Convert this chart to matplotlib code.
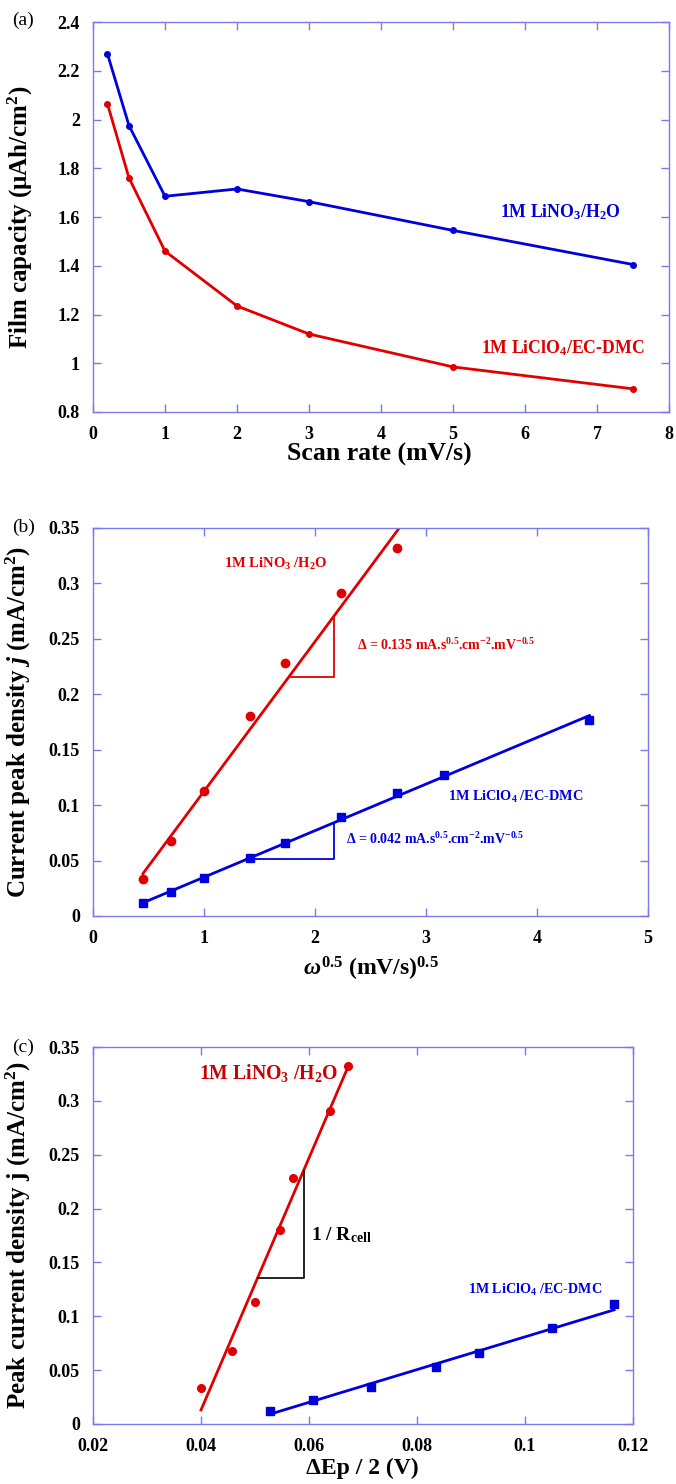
import numpy as np
import matplotlib
matplotlib.use('Agg')
import matplotlib.pyplot as plt

# data
scan_rate = [0.2, 0.5, 1, 2, 3, 5, 7.5]
cap_nitrate = [2.27, 1.975, 1.685, 1.715, 1.663, 1.545, 1.405]
cap_perchlorate = [2.065, 1.76, 1.46, 1.235, 1.12, 0.985, 0.895]

sqrt_nitrate = [0.447, 0.707, 1.0, 1.414, 1.732, 2.236, 2.739]
j_nitrate = [0.033, 0.068, 0.113, 0.18, 0.228, 0.291, 0.332]
sqrt_perchlorate = [0.447, 0.707, 1.0, 1.414, 1.732, 2.236, 2.739, 3.162, 4.472]
j_perchlorate = [0.012, 0.022, 0.034, 0.052, 0.066, 0.089, 0.111, 0.127, 0.177]

dE_nitrate = [0.040, 0.0457, 0.050, 0.0546, 0.0571, 0.0638, 0.0672]
dE_perchlorate = [0.0527, 0.0607, 0.0715, 0.0835, 0.0915, 0.105, 0.1165]
j_perchlorate_c = [0.012, 0.022, 0.034, 0.053, 0.066, 0.089, 0.111]

# linear fits (slope, intercept, x range)
fit_b_nitrate = (0.135, -0.0225, [0.45, 2.76])
fit_b_perchlorate = (0.042, -0.007, [0.447, 4.472])
fit_c_nitrate = (11.7, -0.455, [0.040, 0.0673])
fit_c_perchlorate = (1.52, -0.0711, [0.0527, 0.1165])

BLUE = '#0000dd'
RED = '#e00000'
SPINE = '#7a7aee'

plt.rcParams['font.family'] = ['Liberation Serif', 'DejaVu Serif']
plt.rcParams['font.weight'] = 'bold'
plt.rcParams['mathtext.fontset'] = 'custom'
plt.rcParams['mathtext.rm'] = 'Liberation Serif:bold'
plt.rcParams['mathtext.it'] = 'Liberation Serif:italic:bold'
plt.rcParams['mathtext.bf'] = 'Liberation Serif:bold'

fig = plt.figure(figsize=(6.76, 14.84), dpi=100)
W, H = 676, 1484


def make_axes(left, right, top, bottom):
    return fig.add_axes([left / W, 1 - bottom / H, (right - left) / W, (bottom - top) / H])


def style(ax):
    for s in ax.spines.values():
        s.set_color(SPINE)
        s.set_linewidth(1.0)
    ax.tick_params(direction='in', length=6, width=1, color=SPINE, top=True, right=True,
                   labelsize=13)
    ax.tick_params(axis='y', pad=9.5)
    ax.tick_params(axis='x', pad=10)
    for lab in ax.get_xticklabels() + ax.get_yticklabels():
        lab.set_fontweight('bold')


def fit_line(ax, fit, color):
    k, b, xr = fit
    xs = np.array(xr)
    ax.plot(xs, k * xs + b, color=color, lw=2)


# ---------- (a)
ax1 = make_axes(93, 669, 22, 412)
ax1.plot(scan_rate, cap_nitrate, '-o', color=BLUE, lw=2, ms=4)
ax1.plot(scan_rate, cap_perchlorate, '-o', color=RED, lw=2, ms=4)
ax1.set_xlim(0, 8)
ax1.set_ylim(0.8, 2.4)
ax1.set_xticks(range(0, 9))
ax1.set_yticks([0.8, 1, 1.2, 1.4, 1.6, 1.8, 2, 2.2, 2.4])
ax1.set_yticklabels(['0.8', '1', '1.2', '1.4', '1.6', '1.8', '2', '2.2', '2.4'])
style(ax1)
ax1.set_xlabel('Scan rate (mV/s)', fontsize=18.5, fontweight='bold')
ax1.xaxis.set_label_coords(0.497, -0.08)
ax1.set_ylabel('Film capacity (μAh/cm$^2$)', fontsize=18, fontweight='bold')
ax1.yaxis.set_label_coords(-0.1, 0.5)
ax1.text(5.65, 1.62, r'1M LiNO$_3$/H$_2$O', color=BLUE, fontsize=12.8, va='center')
ax1.text(5.39, 1.06, r'1M LiClO$_4$/EC-DMC', color=RED, fontsize=12.8, va='center')
fig.text(12 / W, 1 - 20 / H, '(a)', fontsize=14, fontweight='normal', va='center')

# ---------- (b)
ax2 = make_axes(93, 648, 528, 916)
fit_line(ax2, fit_b_nitrate, RED)
fit_line(ax2, fit_b_perchlorate, BLUE)
ax2.plot(sqrt_nitrate, j_nitrate, 'o', color=RED, ms=6)
ax2.plot(sqrt_perchlorate, j_perchlorate, 's', color=BLUE, ms=6)
# slope triangles
tri_x = 2.17
k, b, _ = fit_b_nitrate
y_h = 0.2155
ax2.plot([(y_h - b) / k, tri_x, tri_x], [y_h, y_h, k * tri_x + b], color=RED, lw=1.3)
k, b, _ = fit_b_perchlorate
y_h = 0.051
ax2.plot([(y_h - b) / k, tri_x, tri_x], [y_h, y_h, k * tri_x + b], color=BLUE, lw=1.3)
ax2.set_xlim(0, 5)
ax2.set_ylim(0, 0.35)
ax2.set_xticks(range(0, 6))
ax2.set_yticks([0, 0.05, 0.1, 0.15, 0.2, 0.25, 0.3, 0.35])
ax2.set_yticklabels(['0', '0.05', '0.1', '0.15', '0.2', '0.25', '0.3', '0.35'])
style(ax2)
ax2.set_xlabel(r'$\omega^{0.5}$ (mV/s)$^{0.5}$', fontsize=17, fontweight='bold')
ax2.xaxis.set_label_coords(0.5, -0.1)
ax2.set_ylabel(r'Current peak density $j$ (mA/cm$^2$)', fontsize=18, fontweight='bold')
ax2.yaxis.set_label_coords(-0.108, 0.5)
ax2.text(1.18, 0.318, r'1M LiNO$_3$ /H$_2$O', color=RED, fontsize=10.5, va='center')
ax2.text(2.38, 0.2445, r'Δ = 0.135 mA.s$^{0.5}$.cm$^{-2}$.mV$^{-0.5}$', color=RED,
         fontsize=10, va='center')
ax2.text(3.2, 0.107, r'1M LiClO$_4$ /EC-DMC', color=BLUE, fontsize=10.3, va='center')
ax2.text(2.28, 0.069, r'Δ = 0.042 mA.s$^{0.5}$.cm$^{-2}$.mV$^{-0.5}$', color=BLUE,
         fontsize=10, va='center')
fig.text(12 / W, 1 - 527 / H, '(b)', fontsize=14, fontweight='normal', va='center')

# ---------- (c)
ax3 = make_axes(93, 633, 1047, 1424)
fit_line(ax3, fit_c_nitrate, RED)
fit_line(ax3, fit_c_perchlorate, BLUE)
ax3.plot(dE_nitrate, j_nitrate, 'o', color=RED, ms=5.5)
ax3.plot(dE_perchlorate, j_perchlorate_c, 's', color=BLUE, ms=6)
k, b, _ = fit_c_nitrate
tri_x = 0.059
y_h = 0.136
ax3.plot([(y_h - b) / k, tri_x, tri_x], [y_h, y_h, k * tri_x + b], color='black', lw=1.2)
ax3.set_xlim(0.02, 0.12)
ax3.set_ylim(0, 0.35)
ax3.set_xticks([0.02, 0.04, 0.06, 0.08, 0.1, 0.12])
ax3.set_xticklabels(['0.02', '0.04', '0.06', '0.08', '0.1', '0.12'])
ax3.set_yticks([0, 0.05, 0.1, 0.15, 0.2, 0.25, 0.3, 0.35])
ax3.set_yticklabels(['0', '0.05', '0.1', '0.15', '0.2', '0.25', '0.3', '0.35'])
style(ax3)
ax3.set_xlabel('ΔEp / 2 (V)', fontsize=17, fontweight='bold')
ax3.xaxis.set_label_coords(0.498, -0.09)
ax3.set_ylabel('Peak current density j (mA/cm$^2$)', fontsize=18, fontweight='bold')
ax3.yaxis.set_label_coords(-0.111, 0.5)
ax3.text(0.0396, 0.326, r'1M LiNO$_3$ /H$_2$O', color='#cc0000', fontsize=14.2, va='center')
ax3.text(0.0603, 0.1755, r'1 / R$_{\rm cell}$', color='black', fontsize=14, va='center')
ax3.text(0.0895, 0.124, r'1M LiClO$_4$ /EC-DMC', color=BLUE, fontsize=10.2, va='center')
fig.text(12 / W, 1 - 1047 / H, '(c)', fontsize=14, fontweight='normal', va='center')

plt.savefig('out.png', dpi=100)
plt.close()
